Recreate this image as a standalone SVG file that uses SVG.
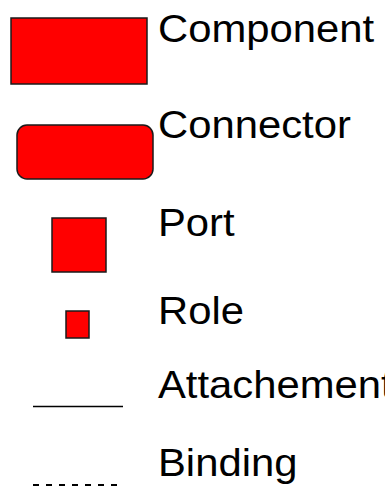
<svg xmlns="http://www.w3.org/2000/svg" width="385" height="492" viewBox="0 0 385 492">
  <style>
    .shape { fill: #ff0000; stroke: #1a1a1a; stroke-width: 1.5; }
    .label { font-family: "Liberation Sans", Arial, sans-serif; font-size: 38px; fill: #000; }
    .link { stroke: #000; stroke-width: 1.5; fill: none; }
    .dashed { stroke-width: 2; stroke-dasharray: 6 7; }
  </style>
  <rect width="385" height="492" fill="#fff"/>

  <!-- legend entries -->
  <g id="component">
    <rect class="shape" x="11" y="18" width="136" height="66"/>
    <text class="label" transform="translate(158,42) scale(1.1,1)">Component</text>
  </g>
  <g id="connector">
    <rect class="shape" x="17" y="125" width="136" height="54" rx="10" ry="10"/>
    <text class="label" transform="translate(158,138) scale(1.1,1)">Connector</text>
  </g>
  <g id="port">
    <rect class="shape" x="52" y="218" width="54" height="54"/>
    <text class="label" transform="translate(158,236) scale(1.1,1)">Port</text>
  </g>
  <g id="role">
    <rect class="shape" x="66" y="311" width="23" height="27"/>
    <text class="label" transform="translate(158,324) scale(1.1,1)">Role</text>
  </g>
  <g id="attachement">
    <text class="label" transform="translate(158,398) scale(1.1,1)">Attachement</text>
  </g>
  <g id="binding">
    <text class="label" transform="translate(158,476) scale(1.1,1)">Binding</text>
  </g>

  <!-- line samples -->
  <g id="connectors">
    <line class="link" x1="33" y1="406.5" x2="123" y2="406.5"/>
    <line class="link dashed" x1="33" y1="485" x2="123" y2="485"/>
  </g>
</svg>
